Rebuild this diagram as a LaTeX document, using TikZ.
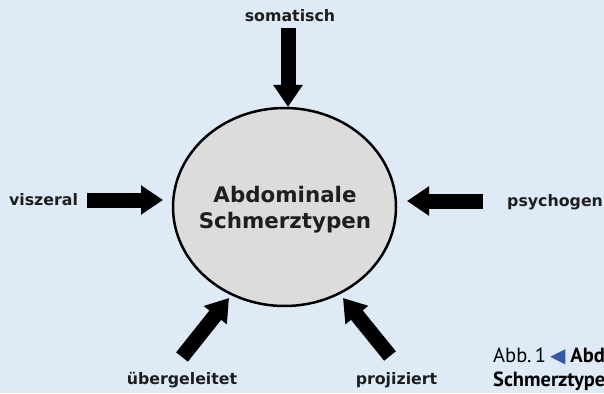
\documentclass[tikz,border=0pt]{standalone}
\usepackage{fontspec}
\setmainfont{DejaVu Sans}
\newfontfamily\capfont{PT Sans}
\newfontfamily\symfont{DejaVu Sans}
\usetikzlibrary{arrows.meta,shapes.geometric}
\definecolor{bgblue}{RGB}{222,235,247}
\definecolor{circgray}{RGB}{220,220,220}
\definecolor{txt}{RGB}{30,30,30}
\definecolor{capblue}{RGB}{52,88,170}
\tikzset{
  lbl/.style={font=\bfseries\fontsize{15.8}{18}\selectfont, text=txt, inner sep=0pt},
  fatarrow/.style={line width=15pt, -{Triangle[width=28pt,length=22pt]}, shorten >=0pt},
  capl/.style={font=\capfont\fontsize{20.5}{24}\selectfont, text=black, inner sep=0pt, anchor=base west}
}
\begin{document}
\begin{tikzpicture}[x=1pt,y=-1pt]
\fill[bgblue] (0,0) rectangle (604,393);
\useasboundingbox (0,0) rectangle (604,393);
\clip (0,0) rectangle (604,393);
\node[ellipse, draw=black, line width=2.5pt, fill=circgray, minimum width=223pt, minimum height=198pt, inner sep=0pt] (c) at (284.5,207) {};
\node[font=\bfseries\fontsize{21.4}{26}\selectfont, text=txt, align=center, inner sep=0pt] (title) at (285,210) {Abdominale\\Schmerztypen};
% labels
\node[lbl, anchor=base] (som) at (290,22) {somatisch};
\node[lbl, anchor=base] (vis) at (43.5,205) {viszeral};
\node[lbl, anchor=base west] (psy) at (507,206) {psychogen};
\node[lbl, anchor=base] (ueb) at (182,384) {übergeleitet};
\node[lbl, anchor=base] (pro) at (396.5,384) {projiziert};
% arrow tails and tips
\coordinate (tsom) at (288,28);
\coordinate (tvis) at (87,200);
\coordinate (tpsy) at (483,201);
\coordinate (tueb) at (182,357);
\coordinate (tpro) at (390,356);
\coordinate (hsom) at (288,107);
\coordinate (hvis) at (163,200);
\coordinate (hpsy) at (407,201);
\coordinate (hueb) at (229,298);
\coordinate (hpro) at (343,298);
\draw[fatarrow] (tsom) -- (hsom);
\draw[fatarrow] (tvis) -- (hvis);
\draw[fatarrow] (tpsy) -- (hpsy);
\draw[fatarrow] (tueb) -- (hueb);
\draw[fatarrow] (tpro) -- (hpro);
% caption
\node[capl] (cap1) at (493,362) {Abb.\,1\hspace{4pt}{\symfont\color{capblue}\fontsize{20}{22}\selectfont ◀}\hspace{5pt}\textbf{Abdominale}};
\node[capl] (cap2) at (493,386) {\textbf{Schmerztypen}};
\end{tikzpicture}
\end{document}
